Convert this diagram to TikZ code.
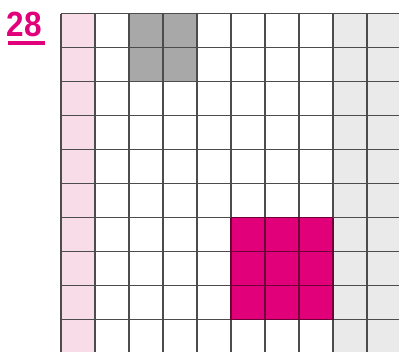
\documentclass[tikz,border=0pt]{standalone}
\usepackage{fontspec}
\setmainfont{Liberation Sans}
\definecolor{mag}{HTML}{E2007A}
\definecolor{pinkc}{HTML}{F8DCE8}
\definecolor{grayc}{HTML}{A8A8A8}
\definecolor{lgray}{HTML}{EAEAEA}
\definecolor{gridc}{HTML}{4C4C4C}
\definecolor{magline}{HTML}{6A0036}
\tikzset{gridline/.style={draw=gridc,line width=1.6pt},
  magline/.style={draw=magline,line width=1.6pt}}
\begin{document}
\begin{tikzpicture}[x=1pt,y=-1pt]
\useasboundingbox (0,0) rectangle (399,351);
\clip (0,0) rectangle (399,351);
% fills
\fill[pinkc] (61,13.5) rectangle (95,353.5);
\fill[lgray] (333,13.5) rectangle (401,353.5);
\fill[grayc] (129,13.5) rectangle (197,81.5);
\fill[mag] (231,217.5) rectangle (333,319.5);
% grid
\foreach \k in {0,...,10} {
  \draw[gridline] (61,13.5+34*\k) -- (401,13.5+34*\k);
  \draw[gridline] (61+34*\k,13.5) -- (61+34*\k,353.5);
}
% darker lines inside magenta block
\foreach \k in {0,...,3} {
  \draw[magline] (231,217.5+34*\k) -- (333,217.5+34*\k);
  \draw[magline] (231+34*\k,217.5) -- (231+34*\k,319.5);
}
% label
\node[anchor=base west,inner sep=0pt,text=mag,font=\bfseries\fontsize{35}{35}\selectfont,xscale=0.9] (num) at (6.5,36.5) {28};
\fill[mag] (8,41) rectangle (45,45);
\end{tikzpicture}
\end{document}
